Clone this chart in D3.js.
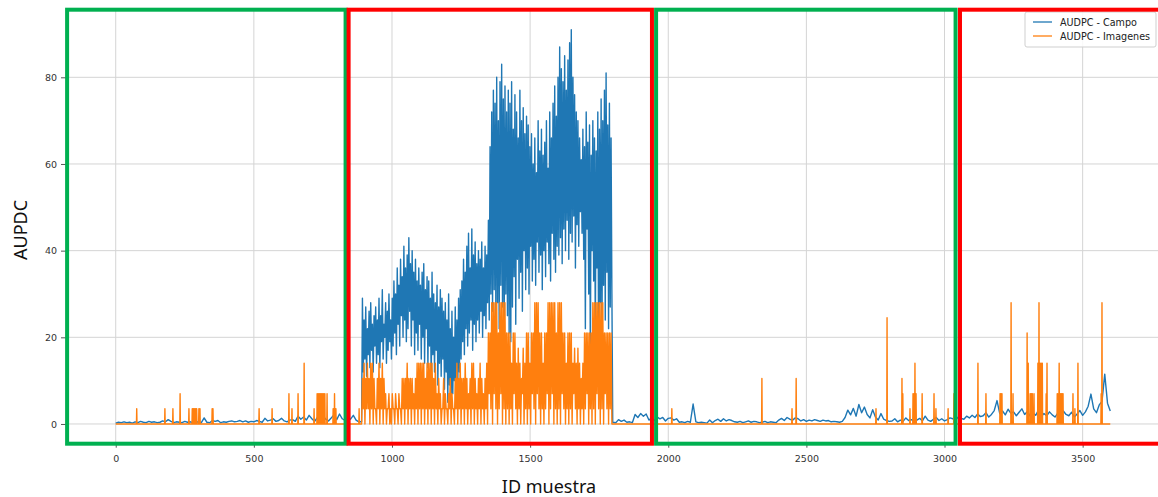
<!DOCTYPE html>
<html>
<head>
<meta charset="utf-8">
<script src="https://cdn.jsdelivr.net/npm/d3@7"></script>
<style>
  html, body { margin: 0; padding: 0; background: #fff; }
  svg { display: block; }
</style>
</head>
<body>
<svg id="chart" width="1158" height="497"></svg>
<script>
// ---- Axis ticks and series labels ----
const xTicks = [0, 500, 1000, 1500, 2000, 2500, 3000, 3500];
const yTicks = [0, 20, 40, 60, 80];
const seriesNames = ["AUDPC - Campo", "AUDPC - Imagenes"];
const seriesColors = ["#1f77b4", "#ff7f0e"];

// ---- AUDPC - Campo (field) ----
// samples 0..880, every 10 ids
const campoIdsA = d3.range(0, 881, 10);
const campoA = [
  0.2,0.4,0.3,0.5,0.3,0.4,0.2,0.5,0.3,0.6,
  0.4,0.3,0.6,0.4,0.5,0.3,0.4,0.7,0.5,1.0,
  0.6,0.3,0.5,0.4,0.3,0.6,0.4,0.5,0.3,0.4,
  0.5,0.3,1.4,0.4,0.3,0.8,0.6,0.8,0.3,0.5,
  0.4,0.6,0.7,0.5,0.6,0.8,0.5,0.7,0.4,0.6,
  0.5,0.8,0.6,0.4,1.3,0.7,0.9,1.2,0.6,0.8,
  1.3,0.7,0.5,0.9,1.0,0.6,1.8,1.1,1.6,0.9,
  2.0,1.2,0.6,1.5,0.9,1.9,1.1,0.7,1.4,2.1,
  1.0,2.3,1.2,0.8,1.6,1.1,2.0,0.9,0.5
];
// samples 890..1799, every 3 ids
const campoIdsB = d3.range(890, 1800, 3);
const campoB = [
  0.5,29,12,24,15,27,11,22,16,26,  13,28,17,23,12,25,18,27,14,24,
  16,29,13,25,19,31,15,23,20,28,  14,26,17,30,19,24,15,29,18,33,
  21,30,16,36,23,32,18,38,25,34,  20,41,24,36,19,39,22,43,26,37,
  18,40,24,35,16,38,21,33,17,36,  23,32,15,35,20,37,14,31,22,34,
  13,33,18,29,10,35,16,30,12,28,  17,32,9,27,14,31,11,29,15,26,
  8,28,12,24,5,30,9,22,4,26,      7,20,10,27,5,24,8,29,12,31,
  15,33,19,38,16,35,22,41,18,44,  21,36,24,45,17,39,23,42,19,37,
  24,40,21,38,26,42,20,36,25,41,  22,39,28,47,24,64,30,72,26,77,
  31,74,24,80,28,70,22,79,32,83,  27,75,20,78,30,72,25,77,21,74,
  19,79,27,68,34,76,23,72,38,66,  29,77,35,70,26,73,40,67,31,71,
  36,69,30,64,41,67,33,60,38,66,  32,58,42,70,35,63,39,68,31,62,
  40,65,34,70,42,59,37,72,33,66,  44,74,38,78,35,71,41,80,39,87,
  43,82,37,79,45,85,40,77,47,84,  38,88,44,91,42,80,48,76,36,72,
  46,70,41,66,49,61,44,68,38,64,  22,72,45,65,30,69,14,62,40,70,
  33,66,20,63,36,72,12,68,28,75,  18,70,32,77,24,81,35,69,22,74,
  27,66,30,0.4
];
// samples 1810..3600, every 10 ids
const campoIdsC = d3.range(1810, 3601, 10);
const campoC = [
  0.3,1.0,0.6,0.9,0.4,0.5,0.3,2.2,1.5,2.4,
  1.8,2.3,0.9,1.4,0.8,1.6,1.2,1.5,0.7,1.3,
  1.4,0.9,1.2,0.4,0.5,0.3,0.6,0.4,4.6,0.5,
  0.3,0.4,0.3,0.2,0.9,0.3,0.8,1.1,0.6,1.2,
  0.7,1.0,0.8,0.5,0.4,0.6,0.3,0.5,0.7,0.4,
  0.6,0.5,0.3,0.4,0.6,0.3,0.5,0.4,0.3,0.9,
  1.3,0.8,1.5,1.1,0.9,1.4,1.2,0.7,1.0,0.6,
  0.9,0.7,1.0,0.8,0.6,0.9,0.7,0.8,0.5,0.6,
  0.5,0.4,0.6,1.5,3.2,2.1,3.6,1.8,4.5,2.6,
  3.9,2.2,1.4,3.3,1.6,0.9,2.4,1.1,0.8,0.6,
  0.7,1.2,0.5,0.9,0.6,1.4,0.8,1.0,0.6,0.9,
  1.3,0.7,1.8,0.9,0.6,1.1,1.5,0.8,1.2,0.7,
  1.0,1.4,1.2,0.9,1.6,1.3,1.1,1.8,1.4,2.0,
  1.5,2.3,1.7,1.9,2.6,1.6,2.2,3.1,5.4,2.4,
  3.0,2.1,3.4,2.5,2.8,1.9,2.7,3.5,2.2,2.9,
  1.8,2.6,2.0,3.2,1.7,2.4,1.9,2.8,2.1,1.6,
  2.5,1.8,3.0,2.2,1.9,2.7,1.6,2.3,3.1,2.0,
  2.8,4.1,6.9,3.5,2.6,4.4,5.2,11.5,4.8,3.0
];

// ---- AUDPC - Imagenes (image based) ----
// isolated non-zero samples [id, value] before the dense block (zero elsewhere)
const imagenesPicosA = [
  [76,3.5],[178,3.5],[207,3.5],[233,7],[265,3.5],[277,3.5],[281,3.5],[285,3.5],
  [289,3.5],[293,3.5],[301,3.5],[305,3.5],[349,3.5],[352,3.5],[519,3.5],[566,3.5],
  [627,7],[638,3.5],[660,7],[682,14],[718,3.5],[729,7],[733,7],[737,7],[741,7],
  [745,7],[749,7],[753,7],[757,7],[765,7],[787,3.5],[792,7],[797,3.5],[881,3.5]
];
// dense block, same ids as campoIdsB
const imagenesIdsB = campoIdsB;
const imagenesB = [
  0,10.5,3.5,14,0,10.5,3.5,14,3.5,10.5,   0,14,3.5,14,0,10.5,3.5,3.5,0,10.5,
  3.5,14,0,10.5,3.5,14,0,10.5,3.5,7,      0,3.5,3.5,7,0,3.5,0,7,3.5,3.5,
  0,7,3.5,3.5,0,7,3.5,3.5,0,10.5,         3.5,10.5,0,10.5,3.5,14,0,10.5,3.5,10.5,
  0,10.5,3.5,7,0,10.5,3.5,14,0,14,        3.5,14,0,14,3.5,14,0,10.5,3.5,14,
  0,14,3.5,14,0,14,3.5,10.5,0,14,         3.5,7,0,10.5,3.5,7,0,3.5,3.5,10.5,
  0,7,3.5,3.5,0,7,3.5,10.5,0,7,           3.5,3.5,0,10.5,3.5,14,0,10.5,3.5,14,
  0,10.5,3.5,10.5,0,14,3.5,10.5,0,7,      3.5,10.5,0,14,3.5,14,0,10.5,3.5,7,
  0,10.5,3.5,14,0,10.5,3.5,7,0,10.5,      3.5,14,0,21,7,21,3.5,28,0,28,
  7,28,3.5,28,0,21,3.5,28,7,28,           0,28,3.5,28,0,21,3.5,21,0,21,
  3.5,14,0,21,7,21,3.5,14,0,17.5,         3.5,14,0,10.5,7,17.5,0,14,3.5,21,
  0,21,3.5,14,0,21,7,21,3.5,28,           0,28,7,28,3.5,21,0,21,3.5,14,
  0,21,3.5,21,7,28,0,28,3.5,28,           7,28,0,28,3.5,21,0,28,3.5,28,
  0,28,7,21,3.5,21,0,14,3.5,21,           0,21,3.5,21,0,14,7,17.5,3.5,14,
  0,17.5,3.5,14,0,10.5,3.5,14,0,21,       3.5,21,7,21,0,21,3.5,21,0,28,
  3.5,28,0,28,7,28,3.5,28,0,28,           3.5,28,0,21,7,21,3.5,21,0,21,
  3.5,21,0,0
];
// isolated non-zero samples after the dense block
const imagenesPicosC = [
  [2013,3.5],[2339,10.5],[2448,3.5],[2463,10.5],[2752,3.5],[2792,24.5],[2846,10.5],
  [2849,7],[2875,3.5],[2886,7],[2890,7],[2893,14],[2897,7],[2919,7],[2962,7],
  [2969,3.5],[3013,3.5],[3034,7],[3121,14],[3150,7],[3201,7],[3204,7],[3208,7],
  [3241,28],[3248,7],[3299,21],[3303,14],[3310,7],[3314,7],[3318,7],[3324,7],
  [3338,14],[3342,28],[3346,14],[3350,14],[3354,14],[3368,7],[3371,14],[3408,7],
  [3412,7],[3415,14],[3418,7],[3422,7],[3426,7],[3429,7],[3465,7],[3472,3.5],
  [3483,14],[3567,7],[3570,28]
];
const imagenesUltimoId = 3600;

// ---- Highlighted sample ranges (id from, id to, kind) ----
const zonasDesde = [-176, 843, 1956, 3056];
const zonasHasta = [832, 1941, 3040, 3820];
const zonasTipo  = ["verde", "rojo", "verde", "rojo"];
const zonaColor = { verde: "#00b050", rojo: "#ff0000" };

// ---- Build point lists ----
const puntosCampo = [];
campoIdsA.forEach((id, i) => puntosCampo.push([id, campoA[i]]));
campoIdsB.forEach((id, i) => puntosCampo.push([id, campoB[i]]));
campoIdsC.forEach((id, i) => puntosCampo.push([id, campoC[i]]));

const puntosImagenes = [[0, 0]];
const pico = ([id, v]) => puntosImagenes.push([id - 1, 0], [id, v], [id + 1, 0]);
imagenesPicosA.forEach(pico);
imagenesIdsB.forEach((id, i) => puntosImagenes.push([id, imagenesB[i]]));
imagenesPicosC.forEach(pico);
puntosImagenes.push([imagenesUltimoId, 0]);

// ---- Layout ----
const svg = d3.select("#chart");
const x = d3.scaleLinear().domain([-180, 3780]).range([66, 1160]);
const y = d3.scaleLinear().domain([-4.55, 95.6]).range([443.7, 9.7]);
const [yBottom, yTop] = y.range();
const [xLeft, xRight] = x.range();

// grid
const grid = svg.append("g").attr("stroke", "#d4d4d4").attr("stroke-width", 1);
grid.selectAll("line.gx").data(xTicks).join("line")
  .attr("x1", d => x(d)).attr("x2", d => x(d))
  .attr("y1", yTop).attr("y2", yBottom);
grid.selectAll("line.gy").data(yTicks).join("line")
  .attr("x1", xLeft).attr("x2", xRight)
  .attr("y1", d => y(d)).attr("y2", d => y(d));

// axes
const xAxis = svg.append("g")
  .attr("transform", `translate(0,${yBottom})`)
  .call(d3.axisBottom(x).tickValues(xTicks).tickSize(4).tickPadding(8).tickFormat(d3.format("d")));
const yAxis = svg.append("g")
  .attr("transform", `translate(${xLeft},0)`)
  .call(d3.axisLeft(y).tickValues(yTicks).tickSize(5).tickPadding(4).tickFormat(d3.format("d")));
[xAxis, yAxis].forEach(g => {
  g.select(".domain").remove();
  g.selectAll(".tick line").attr("stroke", "#444").attr("stroke-width", 0.9);
  g.selectAll(".tick text")
    .attr("fill", "#333")
    .style("font-family", "'DejaVu Sans', sans-serif")
    .style("font-size", "9.5px");
});

// series
const line = d3.line().x(d => x(d[0])).y(d => y(d[1]));
svg.append("path").datum(puntosCampo)
  .attr("fill", "none").attr("stroke", seriesColors[0])
  .attr("stroke-width", 1.4).attr("stroke-linejoin", "round")
  .attr("d", line);
svg.append("path").datum(puntosImagenes)
  .attr("fill", "none").attr("stroke", seriesColors[1])
  .attr("stroke-width", 1.4).attr("stroke-linejoin", "round")
  .attr("d", line);

// legend
const legend = svg.append("g").attr("transform", "translate(1025,12)");
legend.append("rect")
  .attr("width", 131).attr("height", 35).attr("rx", 2)
  .attr("fill", "#fff").attr("fill-opacity", 0.85)
  .attr("stroke", "#cfcfcf").attr("stroke-width", 1);
seriesNames.forEach((name, i) => {
  const row = legend.append("g").attr("transform", `translate(0,${10 + i * 14})`);
  row.append("line").attr("x1", 8).attr("x2", 27).attr("y1", 0).attr("y2", 0)
    .attr("stroke", seriesColors[i]).attr("stroke-width", 1.3);
  row.append("text").attr("x", 35).attr("y", 3.5)
    .attr("fill", "#222")
    .style("font-family", "'DejaVu Sans', sans-serif")
    .style("font-size", "9.6px")
    .text(name);
});

// highlighted ranges
svg.append("g").selectAll("rect").data(zonasTipo).join("rect")
  .attr("x", (d, i) => x(zonasDesde[i]))
  .attr("width", (d, i) => x(zonasHasta[i]) - x(zonasDesde[i]))
  .attr("y", yTop).attr("height", yBottom - yTop)
  .attr("fill", "none")
  .attr("stroke", d => zonaColor[d])
  .attr("stroke-width", 4);

// axis titles
svg.append("text")
  .attr("transform", "translate(27,230) rotate(-90)")
  .attr("text-anchor", "middle")
  .attr("fill", "#111")
  .style("font-family", "'Noto Sans', sans-serif")
  .style("font-size", "18px")
  .text("AUPDC");
svg.append("text")
  .attr("x", 549).attr("y", 493)
  .attr("text-anchor", "middle")
  .attr("fill", "#111")
  .style("font-family", "'Noto Sans', sans-serif")
  .style("font-size", "18px")
  .text("ID muestra");
</script>
</body>
</html>
